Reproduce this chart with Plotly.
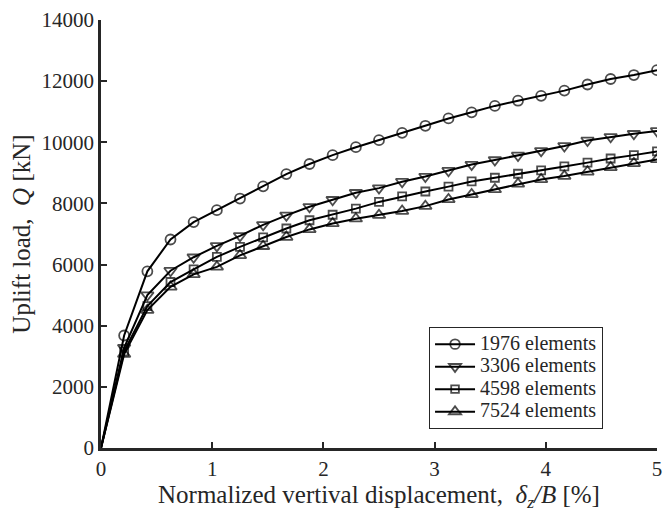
import plotly.graph_objects as go

# x positions (normalized vertical displacement, %)
x_disp = [0, 0.208, 0.417, 0.625, 0.833, 1.042, 1.25, 1.458, 1.667, 1.875,
          2.083, 2.292, 2.5, 2.708, 2.917, 3.125, 3.333, 3.542, 3.75, 3.958,
          4.167, 4.375, 4.583, 4.792, 5.0]

q_1976 = [0, 3680, 5780, 6820, 7390, 7780, 8160, 8560, 8960, 9290,
          9580, 9840, 10070, 10310, 10540, 10780, 10980, 11190, 11360, 11520,
          11690, 11890, 12070, 12200, 12360]
q_3306 = [0, 3280, 5000, 5800, 6240, 6610, 6940, 7300, 7610, 7890,
          8120, 8350, 8500, 8710, 8880, 9070, 9270, 9420, 9570, 9720,
          9880, 10060, 10180, 10280, 10370]
q_4598 = [0, 3160, 4640, 5430, 5840, 6250, 6580, 6890, 7180, 7450,
          7630, 7830, 8050, 8230, 8390, 8550, 8720, 8840, 8970, 9080,
          9210, 9335, 9470, 9580, 9700]
q_7524 = [0, 3070, 4510, 5270, 5680, 5925, 6300, 6600, 6900, 7150,
          7345, 7500, 7617, 7750, 7912, 8131, 8295, 8458, 8640, 8786,
          8894, 9034, 9178, 9309, 9440]

series_names = ["1976 elements", "3306 elements", "4598 elements", "7524 elements"]
series_vals = [q_1976, q_3306, q_4598, q_7524]
symbols = ["circle-open", "triangle-down-open", "square-open", "triangle-up-open"]
sizes = [10, 11, 8, 11]

x_ticks = [0, 1, 2, 3, 4, 5]
y_ticks = [0, 2000, 4000, 6000, 8000, 10000, 12000, 14000]

INK = "#262626"
FONT = "Liberation Serif"

fig = go.Figure()
for name, vals, sym, sz in zip(series_names, series_vals, symbols, sizes):
    msizes = [0] + [sz] * (len(vals) - 1)
    fig.add_trace(go.Scatter(
        x=x_disp, y=vals,
        name="<span style='font-size:20px'>" + name + "</span>",
        mode="lines+markers",
        line=dict(color="black", width=2),
        marker=dict(symbol=sym, size=msizes, color="black",
                    line=dict(color="black", width=1.8)),
    ))

fig.update_layout(
    width=668, height=515,
    margin=dict(l=101, r=6, t=20, b=67),
    paper_bgcolor="white", plot_bgcolor="white",
    font=dict(family=FONT, size=21, color=INK),
    showlegend=True,
    legend=dict(x=0.59, y=0.283, xanchor="left", yanchor="top",
                bgcolor="white", bordercolor=INK, borderwidth=1,
                font=dict(family=FONT, size=15, color=INK),
                tracegroupgap=0, itemwidth=40),
)
fig.update_xaxes(
    range=[0, 5], tickvals=x_ticks, ticks="inside", ticklen=6, tickwidth=2,
    tickcolor=INK, showline=True, linecolor=INK, linewidth=2.5,
    showgrid=False, zeroline=False, mirror=False,
    title=dict(text="Normalized vertival displacement,  <i>δ</i><sub><i>z</i></sub><i>/B</i> [%]",
               font=dict(family=FONT, size=25, color=INK), standoff=2),
    tickfont=dict(family=FONT, size=21, color=INK),
)
fig.update_yaxes(
    range=[0, 14000], tickvals=y_ticks, tickformat="d", ticks="inside",
    ticklen=6, tickwidth=2, tickcolor=INK, showline=True, linecolor=INK,
    linewidth=2.5, showgrid=False, zeroline=False, mirror=False,
    title=dict(text="Uplift load,  <i>Q</i> [kN]",
               font=dict(family=FONT, size=25, color=INK), standoff=4),
    tickfont=dict(family=FONT, size=21, color=INK),
)

fig.write_html("out.html")
